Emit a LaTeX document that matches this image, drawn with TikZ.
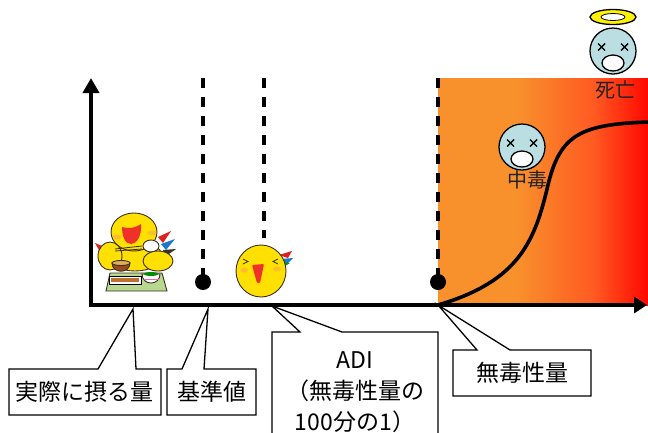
\documentclass[tikz,border=0pt]{standalone}
\usepackage{fontspec}
\newfontfamily\jp{Noto Sans CJK JP}
\usetikzlibrary{arrows.meta,calc}

\definecolor{heatA}{HTML}{F8902C}
\definecolor{heatB}{HTML}{FF5A22}
\definecolor{heatC}{HTML}{FF0800}
\definecolor{faceblue}{HTML}{BADEE2}
\definecolor{haloyellow}{HTML}{FFF200}
\definecolor{chick}{HTML}{FFE000}
\definecolor{chickline}{HTML}{3A3020}
\definecolor{mouthred}{HTML}{F0302A}
\definecolor{blush}{HTML}{FFB040}
\definecolor{featherred}{HTML}{E02020}
\definecolor{featherblue}{HTML}{1E78D0}
\definecolor{matgreen}{HTML}{B8D890}
\definecolor{fishbrown}{HTML}{C07030}
\definecolor{bowlbrown}{HTML}{9A4A1A}
\definecolor{soup}{HTML}{E0B050}
\definecolor{labelgray}{HTML}{222222}

% left part flat orange, right edge pure red (path spans 25bp..75bp)
\pgfdeclarehorizontalshading{heat}{100bp}{color(0bp)=(heatA); color(25bp)=(heatA);
  color(44bp)=(heatA); color(62bp)=(heatB); color(75bp)=(heatC); color(100bp)=(heatC)}

\tikzset{
  axisline/.style={line width=4.5pt, line join=miter},
  guide/.style={line width=3.1pt, dash pattern=on 10pt off 9pt},
  dot/.style={circle, fill=black, inner sep=0pt, minimum size=16pt},
  dosecurve/.style={line width=3.6pt},
  callbox/.style={inner sep=0pt, outer sep=0pt, font=\jp\fontsize{23}{31}\selectfont},
  callline/.style={line width=1.3pt, line join=miter},
  facelabel/.style={font=\jp\fontsize{20}{22}\selectfont, text=labelgray, inner sep=0pt},
  faceline/.style={line width=1.3pt},
  cline/.style={draw=chickline, line width=0.9pt},
  deadface/.pic={
    \draw[faceline, fill=faceblue] (0,0) circle[radius=23];
    \draw[line width=1.4pt] (-15,-7.5) -- (-8,-0.5) (-15,-0.5) -- (-8,-7.5)
                            (8,-7.5) -- (15,-0.5) (8,-0.5) -- (15,-7.5);
    \draw[faceline, fill=white] (0,12) ellipse[x radius=11, y radius=8];
  }
}

\begin{document}
\begin{tikzpicture}[x=1pt, y=-1pt]
\useasboundingbox (0,0) rectangle (648,432);
\clip (0,0) rectangle (648,432);

% toxic zone
\shade[shading=heat] (438,78) rectangle (648,305);

% reference points on the dose axis
\coordinate (O) at (91,305);
\coordinate (ytop) at (91,78);
\coordinate (xend) at (647,305);

\coordinate (g1) at (203,78);
\coordinate (g2) at (264,78);
\coordinate (g2end) at (264,238);
\coordinate (g3) at (438,78);
\node[dot] (d1) at (203,282) {};
\node[dot] (d3) at (438,282) {};
\draw[guide] (g1) -- (d1.center);
\draw[guide] (g2) -- (g2end);
\draw[guide] (g3) -- (d3.center);

% dose-response curve
\draw[dosecurve] (438,305) .. controls (520,281) and (535,240) .. (548,185)
  .. controls (560,135) and (580,124) .. (650,122);

% axes
\draw[axisline, {Triangle[length=15pt,width=16pt]}-{Triangle[length=13pt,width=16pt]}]
  (ytop) -- (O) -- (xend);

% faces
\pic (f1) at (522,147) {deadface};
\node[facelabel] (l1) at (527,180) {中毒};
\draw[faceline, fill=haloyellow] (613,17) ellipse[x radius=23, y radius=7.5];
\draw[line width=0.8pt, fill=white] (613,17) ellipse[x radius=12, y radius=3.5];
\pic (f2) at (613,51) {deadface};
\node[facelabel] (l2) at (615,90) {死亡};

% eating chick
\fill[featherred] (104,247) -- (95,243) -- (99,250) -- cycle;
\fill[featherred] (158,237) -- (171,231) -- (163,243) -- cycle;
\fill[featherblue] (161,244) -- (175,239) -- (166,250) -- cycle;
\fill[chickline] (163,250) -- (176,249) -- (166,256) -- cycle;
\draw[cline, fill=chick] (135,256) ellipse[x radius=27, y radius=15];
\draw[cline, fill=chick] (134,232) ellipse[x radius=23, y radius=19];
\fill[blush, opacity=0.7] (117,237) ellipse[x radius=4.5, y radius=2.5];
\fill[blush, opacity=0.7] (152,233) ellipse[x radius=4.5, y radius=2.5];
\fill[mouthred] (122,227) .. controls (130,229) and (135,228) .. (141,224)
  .. controls (142,237) and (136,244) .. (131,244)
  .. controls (125,244) and (122,236) .. cycle;
\draw[cline, fill=chick] (110,256) ellipse[x radius=12, y radius=14];
\draw[cline, fill=white] (151,246) ellipse[x radius=8, y radius=6];
\draw[cline, fill=chick] (158,261) ellipse[x radius=15, y radius=10];
\draw[chickline, line width=0.8pt] (115,249) -- (142,246) (115,251) -- (142,249);
\draw[cline, fill=matgreen] (110,273) -- (162,273) -- (167,291) -- (106,291) -- cycle;
\draw[black, line width=0.8pt, fill=white] (109,276) rectangle (141,284);
\fill[fishbrown] (111,278) rectangle (139,282);
\draw[cline, fill=bowlbrown] (112,263) .. controls (112,274) and (130,274) .. (130,263) -- cycle;
\draw[cline, fill=soup] (121,263) ellipse[x radius=9, y radius=2.5];
\draw[cline, fill=white] (142,274) .. controls (142,286) and (160,286) .. (160,274) -- cycle;
\draw[magenta!60, line width=0.7pt] (143.5,279) -- (158.5,279);
\fill[green!55!black] (151,274) ellipse[x radius=7, y radius=2];

% plain chick
\fill[featherred] (279,255) -- (292,251) -- (288,258) -- cycle;
\fill[featherblue] (281,259) -- (293,258) -- (287,264) -- cycle;
\fill[green!60!black] (282,262) -- (290,263) -- (285,266) -- cycle;
\draw[cline, fill=chick] (261,271) ellipse[x radius=25, y radius=26];
\fill[blush, opacity=0.7] (244,270) ellipse[x radius=4, y radius=2.5];
\fill[blush, opacity=0.7] (277,269) ellipse[x radius=4, y radius=2.5];
\fill[mouthred, rounded corners=1pt] (252,265) -- (264,264) -- (260,283) -- (257,283) -- cycle;
\draw[chickline, line width=0.8pt] (243,259) -- (248,261.5) -- (243,264);
\draw[chickline, line width=0.8pt] (278,259) -- (273,261.5) -- (278,264);

% callouts
\node[callbox, minimum width=152pt, minimum height=46pt] (b1) at (85,392) {実際に摂る量};
\coordinate (t1) at (133,309);
\draw[callline] (b1.north west) -- ($(b1.north west)+(89,0)$) -- (t1)
  -- ($(b1.north west)+(127,0)$) -- (b1.north east) -- (b1.south east)
  -- (b1.south west) -- cycle;

\node[callbox, minimum width=89pt, minimum height=46pt] (b2) at (211.5,392) {基準値};
\coordinate (t2) at (208,309);
\draw[callline] (b2.north west) -- ($(b2.north west)+(15,0)$) -- (t2)
  -- ($(b2.north west)+(37,0)$) -- (b2.north east) -- (b2.south east)
  -- (b2.south west) -- cycle;

\node[callbox, minimum width=166pt, minimum height=128pt] (b3) at (355,396) {};
\node[callbox, align=center] (adi) at (355,392) {ADI\\（無毒性量の\\100分の1）};
\coordinate (t3) at (272,306);
\draw[callline] (b3.north west) -- ($(b3.north west)+(28,0)$) -- (t3)
  -- ($(b3.north west)+(70,0)$) -- (b3.north east) -- (b3.south east)
  -- (b3.south west) -- cycle;

\node[callbox, minimum width=138pt, minimum height=46pt] (b4) at (522,373) {無毒性量};
\coordinate (t4) at (438,305);
\draw[callline] (b4.north west) -- ($(b4.north west)+(24,0)$) -- (t4)
  -- ($(b4.north west)+(57,0)$) -- (b4.north east) -- (b4.south east)
  -- (b4.south west) -- cycle;
\end{tikzpicture}
\end{document}
